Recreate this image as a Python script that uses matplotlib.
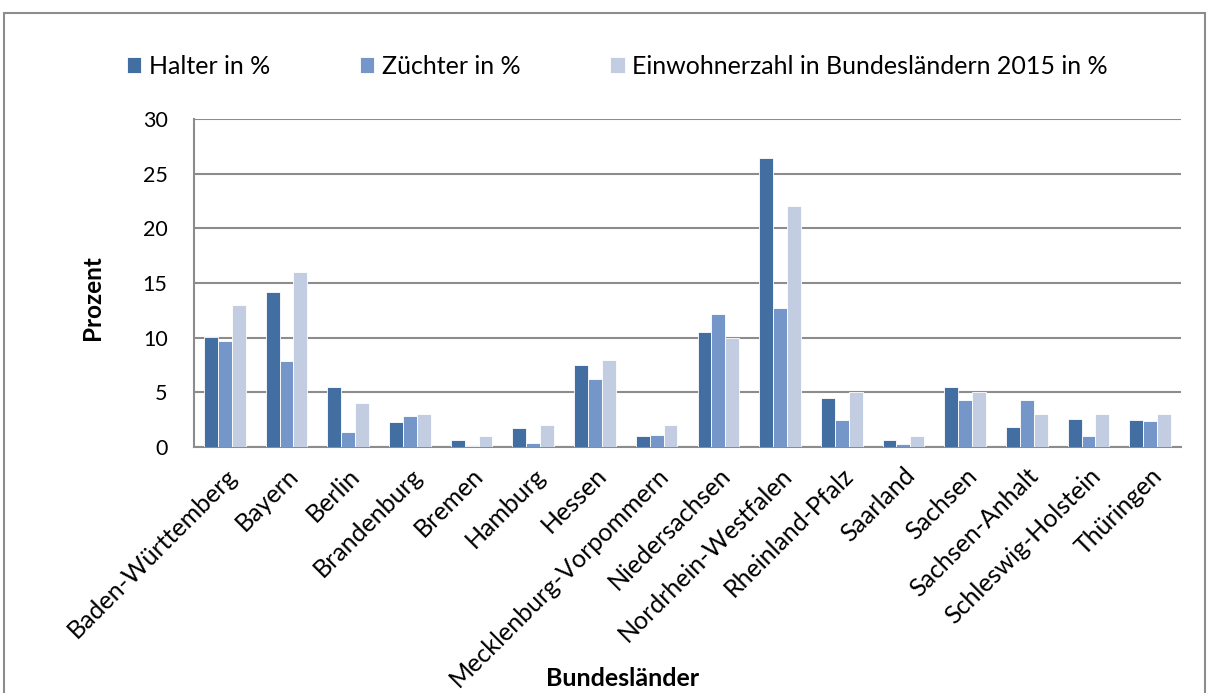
import numpy as np
import matplotlib.pyplot as plt
from matplotlib.patches import Rectangle

# Data
laender = ["Baden-Württemberg", "Bayern", "Berlin", "Brandenburg", "Bremen",
           "Hamburg", "Hessen", "Mecklenburg-Vorpommern", "Niedersachsen",
           "Nordrhein-Westfalen", "Rheinland-Pfalz", "Saarland", "Sachsen",
           "Sachsen-Anhalt", "Schleswig-Holstein", "Thüringen"]
halter = [10.1, 14.2, 5.5, 2.3, 0.6, 1.7, 7.5, 1.0, 10.5, 26.4, 4.5, 0.6, 5.5, 1.8, 2.6, 2.5]
zuechter = [9.7, 7.9, 1.4, 2.8, 0.1, 0.35, 6.2, 1.1, 12.2, 12.7, 2.5, 0.3, 4.3, 4.3, 1.0, 2.4]
einwohner = [13.0, 16.0, 4.0, 3.0, 1.0, 2.0, 8.0, 2.0, 10.0, 22.0, 5.0, 1.0, 5.0, 3.0, 3.0, 3.0]
series_names = ["Halter in %", "Züchter in %", "Einwohnerzahl in Bundesländern 2015 in %"]
colors = ["#426EA1", "#7596C8", "#C3CDE2"]

plt.rcParams['font.family'] = ['Lato', 'DejaVu Sans']

fig = plt.figure(figsize=(12.09, 6.93), dpi=100)
ax = fig.add_axes([194/1209, 1-447/693, (1181-194)/1209, (447-119)/693])

# outer chart frame
fig.patches.append(Rectangle((4/1209, -0.1), 1201/1209, 1.1 - 13/693,
                             transform=fig.transFigure, fill=False,
                             edgecolor="#8C8C8C", lw=1.5))

x = np.arange(len(laender))
w = 0.225
for i, (vals, name) in enumerate(zip([halter, zuechter, einwohner], series_names)):
    ax.bar(x + (i-1)*w, vals, w, color=colors[i], edgecolor="white", lw=0.6,
           label=name, zorder=3)

ax.set_xlim(-0.5, len(laender)-0.5)
ax.set_ylim(0, 30)
ax.set_yticks(range(0, 31, 5))
ax.yaxis.grid(True, color="#8C8C8C", lw=1.5)
ax.set_axisbelow(True)
for s in ["top", "right"]:
    ax.spines[s].set_visible(False)
for s in ["left", "bottom"]:
    ax.spines[s].set_color("#8C8C8C")
    ax.spines[s].set_linewidth(1.5)
ax.tick_params(axis="y", length=0, labelsize=15.5, pad=19)
ax.tick_params(axis="x", length=0, labelsize=18, pad=12)
ax.set_xticks(x)
ax.set_xticklabels(laender, rotation=45, ha="right", rotation_mode="anchor")

fig.text(93/1209, 1-298/693, "Prozent", fontsize=17.5, fontweight="bold",
         rotation=90, ha="center", va="center")
fig.text(623/1209, 1-679/693, "Bundesländer", fontsize=18, fontweight="bold",
         ha="center", va="center")

leg = fig.legend(loc="center left", bbox_to_anchor=(117/1209, 1-66/693), ncol=3,
                 frameon=False, fontsize=18, handlelength=0.57, handleheight=0.6,
                 handletextpad=0.3, columnspacing=3.6, borderaxespad=0)

fig.savefig("out.png", dpi=100)
